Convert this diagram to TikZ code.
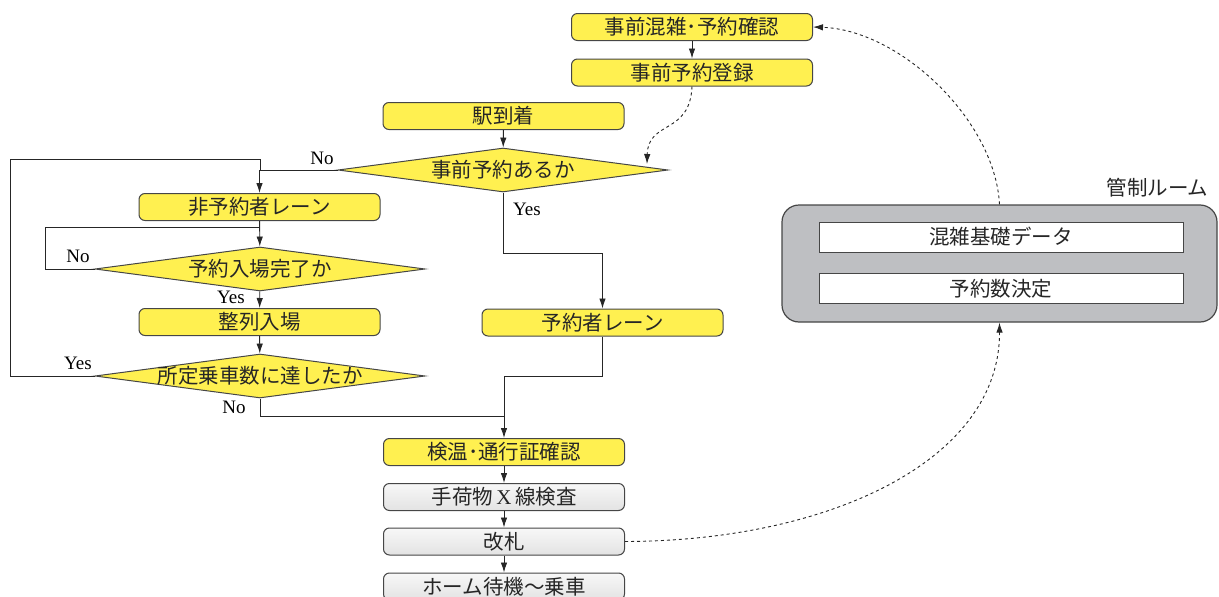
\documentclass[tikz,border=0pt]{standalone}
\usepackage{fontspec}
\setmainfont{Liberation Serif}
\newfontfamily\jp{Noto Sans CJK JP}
\usetikzlibrary{shapes.geometric,arrows.meta}
\definecolor{yel}{RGB}{255,240,80}
\definecolor{edge}{RGB}{70,70,70}
\definecolor{room}{RGB}{190,191,194}
\begin{document}
\begin{tikzpicture}[x=1pt,y=-1pt,
  jpf/.style={font=\jp\fontsize{20.5}{21}\selectfont, text=black!85},
  ybox/.style={jpf, draw=edge, line width=1pt, rounded corners=6pt, fill=yel,
    minimum width=241pt, minimum height=27pt, inner sep=0pt},
  gbox/.style={jpf, draw=edge, line width=1pt, rounded corners=6pt,
    top color=gray!6, bottom color=gray!22, minimum width=241pt, minimum height=27pt, inner sep=0pt},
  dia/.style={draw=edge, line width=1pt, fill=yel, diamond, minimum width=330pt, minimum height=44pt, inner sep=0pt},
  wbox/.style={jpf, draw=edge, line width=1pt, fill=white, minimum width=364pt, minimum height=30pt, inner sep=0pt},
  lab/.style={font=\fontsize{19}{19}\selectfont, inner sep=0pt},
  conn/.style={draw=black!85, line width=0.9pt},
  arr/.style={conn, -{Latex[length=10pt,width=6.5pt]}},
  darr/.style={draw=black!85, line width=0.9pt, dash pattern=on 3pt off 3pt, -{Latex[length=10pt,width=6.5pt]}}
]
\useasboundingbox (0,0) rectangle (1219,597);

% room
\node[draw=edge, line width=1.2pt, fill=room, rounded corners=17pt, minimum width=435pt, minimum height=117pt] (room) at (999.5,263.5) {};
\node[jpf, anchor=east] (roomlab) at (1212,188) {管制ルーム};
\node[wbox] (w1) at (1001,237) {混雑基礎データ};
\node[wbox] (w2) at (1001,288.5) {予約数決定};

% boxes
\node[ybox] (b1) at (692,27) {事前混雑･予約確認};
\node[ybox] (b2) at (692,72.5) {事前予約登録};
\node[ybox] (b3) at (503.5,116) {駅到着};
\node[dia] (d1) at (503,170) {};
\node[jpf] (d1t) at (503,170) {事前予約あるか};
\node[ybox] (b4) at (259.5,207) {非予約者レーン};
\node[dia] (d2) at (260,269) {};
\node[jpf] (d2t) at (260,269) {予約入場完了か};
\node[ybox] (b5) at (259.5,322) {整列入場};
\node[dia] (d3) at (260,376) {};
\node[jpf] (d3t) at (260,376) {所定乗車数に達したか};
\node[ybox] (b6) at (602.5,322.5) {予約者レーン};
\node[ybox] (b7) at (504,452) {検温･通行証確認};
\node[gbox] (b8) at (504,497) {手荷物\,{\rmfamily\fontsize{21}{21}\selectfont X}\,線検査};
\node[gbox] (b9) at (504,541.5) {改札};
\node[gbox] (b10) at (504,586.5) {ホーム待機～乗車};

% coordinates
\coordinate (oA) at (260,159);
\coordinate (oB) at (260,170);
\coordinate (iA) at (45,227);
\coordinate (iB) at (260,227);
\coordinate (j1) at (504,416);
\coordinate (j2) at (504,376);
\coordinate (y1) at (503,253);

% connectors
\draw[arr] (b1) -- (b2);
\draw[arr] (b3) -- (d1);
\draw[arr] (d1.west) -| (b4.north);
\draw[conn] (d3.west) -| (10,159) -- (oA) -- (oB);
\draw[arr] (b4) -- (d2);
\draw[conn] (d2.west) -| (iA) -- (iB);
\draw[arr] (d2) -- (b5);
\draw[arr] (b5) -- (d3);
\draw[conn] (d3.south) |- (j1);
\draw[arr] (d1.south) -- (y1) -| (b6.north);
\draw[arr] (b6.south) |- (j2) -- (b7.north);
\draw[arr] (b7) -- (b8);
\draw[arr] (b8) -- (b9);
\draw[arr] (b9) -- (b10);

% labels
\node[lab] (lno1) at (322,158) {No};
\node[lab] (lyes1) at (527,209) {Yes};
\node[lab] (lno2) at (78,256) {No};
\node[lab] (lyes2) at (231,297) {Yes};
\node[lab] (lyes3) at (78,363) {Yes};
\node[lab] (lno3) at (234,407) {No};

% dashed
\draw[darr] (b9.east) .. controls (830,541) and (1000,460) .. (room.south);
\draw[darr] (room.north) .. controls (995,120) and (900,30) .. (b1.east);
\draw[darr] (b2.south) .. controls (690,135) and (648,120) .. (647,164);
\end{tikzpicture}
\end{document}
